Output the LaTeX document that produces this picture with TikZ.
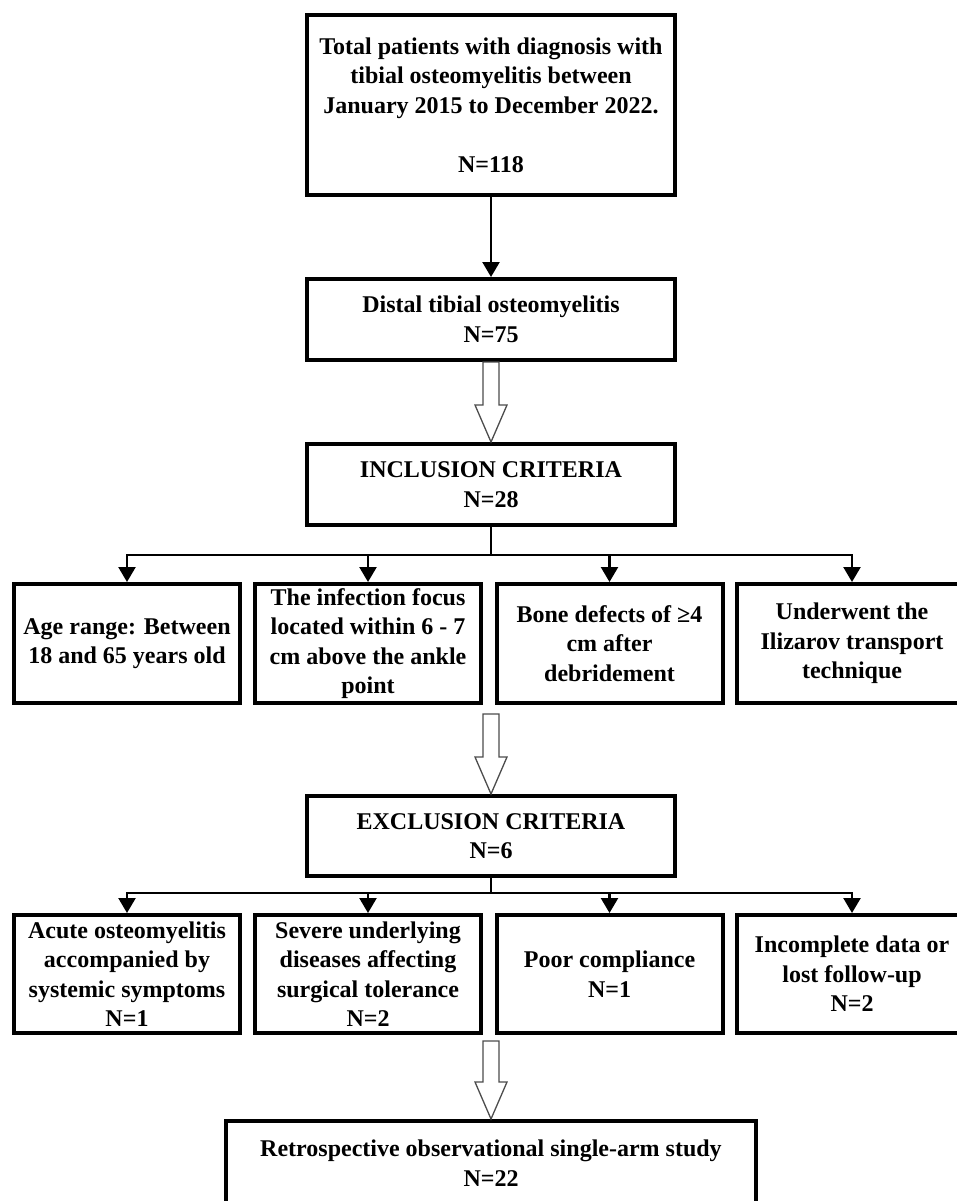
\documentclass[tikz,border=0pt]{standalone}
\usepackage{fontspec}
\setmainfont{Liberation Serif}
\usetikzlibrary{arrows.meta,calc}
\tikzset{
  box/.style={draw=black, line width=4pt, fill=none, align=center, inner sep=0pt,
    font=\fontsize{24}{29.5}\selectfont\bfseries},
  conn/.style={line width=2.4pt, draw=black},
  arr/.style={conn, -{Triangle[width=17pt,length=15pt]}},
  hollow/.style={draw=black!70, line width=1.3pt, fill=white, line join=miter}
}
\newcommand\hollowarrow[2]{%
  \draw[hollow] ($(#1)+(-8,0)$) -- ($(#1)+(8,0)$) -- ($(#2)+(8,-37)$) -- ($(#2)+(16,-37)$)
    -- (#2) -- ($(#2)+(-16,-37)$) -- ($(#2)+(-8,-37)$) -- cycle;}
\begin{document}
\begin{tikzpicture}[x=1pt,y=-1pt]
\useasboundingbox (0,0) rectangle (956,1201);
% main column
\node[box, minimum width=368pt, minimum height=180pt] (top) at (491,105)
  {Total patients with diagnosis with\\tibial osteomyelitis between\\January 2015 to December 2022.\\ \\N=118};
\node[box, minimum width=368pt, minimum height=81pt] (dist) at (491,319.5)
  {Distal tibial osteomyelitis\\N=75};
\node[box, minimum width=368pt, minimum height=81pt] (inc) at (491,484.5)
  {INCLUSION CRITERIA\\N=28};
\node[box, minimum width=368pt, minimum height=80pt] (exc) at (491,836)
  {EXCLUSION CRITERIA\\N=6};
\node[box, minimum width=530pt, minimum height=84pt] (res) at (491,1163)
  {Retrospective observational single-arm study\\N=22};
% inclusion row
\node[box, minimum width=226pt, minimum height=119pt] (ia) at (127,643.5)
  {Age range: Between\\18 and 65 years old};
\node[box, minimum width=226pt, minimum height=119pt] (ib) at (368,643.5)
  {The infection focus\\located within 6 - 7\\cm above the ankle\\point};
\node[box, minimum width=226pt, minimum height=119pt] (ic) at (609.5,643.5)
  {Bone defects of ≥4\\cm after\\debridement};
\node[box, minimum width=230pt, minimum height=119pt] (id) at (852,643.5)
  {Underwent the\\Ilizarov transport\\technique};
% exclusion row
\node[box, minimum width=226pt, minimum height=118pt] (ea) at (127,974)
  {Acute osteomyelitis\\accompanied by\\systemic symptoms\\N=1};
\node[box, minimum width=226pt, minimum height=118pt] (eb) at (368,974)
  {Severe underlying\\diseases affecting\\surgical tolerance\\N=2};
\node[box, minimum width=226pt, minimum height=118pt] (ec) at (609.5,974)
  {Poor compliance\\N=1};
\node[box, minimum width=230pt, minimum height=118pt] (ed) at (852,974)
  {Incomplete data or\\lost follow-up\\N=2};
% connectors
\draw[arr] (top.south) -- (dist.north);
\hollowarrow{dist.south}{inc.north}
\coordinate (j1) at (491,555);
\draw[conn] (inc.south) -- (j1);
\draw[conn] (127,555) -- (852,555);
\draw[arr] (j1) -| (ia.north);
\draw[arr] (j1) -| (ib.north);
\draw[arr] (j1) -| (ic.north);
\draw[arr] (j1) -| (id.north);
\coordinate (s2) at (491,714);
\hollowarrow{s2}{exc.north}
\coordinate (j2) at (491,893);
\draw[conn] (exc.south) -- (j2);
\draw[conn] (127,893) -- (852,893);
\draw[arr] (j2) -| (ea.north);
\draw[arr] (j2) -| (eb.north);
\draw[arr] (j2) -| (ec.north);
\draw[arr] (j2) -| (ed.north);
\coordinate (s3) at (491,1041);
\hollowarrow{s3}{res.north}
\end{tikzpicture}
\end{document}
